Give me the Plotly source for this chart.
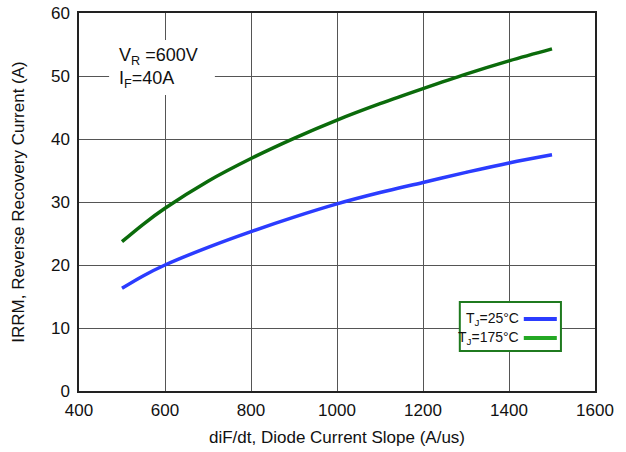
import plotly.graph_objects as go

# diF/dt sweep (A/us) and peak reverse recovery current (A) per junction temperature
di_dt = [500, 550, 600, 700, 800, 900, 1000, 1100, 1200, 1300, 1400, 1500]
irrm_25c = [16.3, 18.3, 20.0, 22.8, 25.3, 27.6, 29.7, 31.5, 33.1, 34.7, 36.2, 37.5]
irrm_175c = [23.7, 26.5, 29.0, 33.3, 36.9, 40.1, 43.0, 45.6, 48.0, 50.3, 52.4, 54.3]

x_ticks = [400, 600, 800, 1000, 1200, 1400, 1600]
y_ticks = [0, 10, 20, 30, 40, 50, 60]

FONT = "Liberation Sans, Arial, Helvetica, sans-serif"
BLUE = "#2b3cff"
GREEN = "#0b6b0b"
GREEN_KEY = "#24a824"

fig = go.Figure()
fig.add_trace(go.Scatter(x=di_dt, y=irrm_25c, mode="lines", line=dict(color=BLUE, width=3.5),
                         line_shape="spline", showlegend=False))
fig.add_trace(go.Scatter(x=di_dt, y=irrm_175c, mode="lines", line=dict(color=GREEN, width=3.5),
                         line_shape="spline", showlegend=False))

axis_common = dict(showline=True, linecolor="#222", linewidth=1.5, mirror=True,
                   showgrid=True, gridcolor="#555", gridwidth=1.3, zeroline=False,
                   automargin=False,
                   ticks="", tickfont=dict(family=FONT, size=17, color="#111"))

fig.update_xaxes(range=[400, 1600], tickvals=x_ticks, ticktext=[str(v) for v in x_ticks],
                 ticklabelstandoff=3,
                 title=dict(text="diF/dt, Diode Current Slope (A/us)",
                            font=dict(family=FONT, size=17, color="#111"), standoff=12),
                 **axis_common)
fig.update_yaxes(range=[0, 60], tickvals=y_ticks, ticktext=[str(v) for v in y_ticks],
                 ticklabelstandoff=4,
                 title=dict(text="IRRM, Reverse Recovery Current (A)",
                            font=dict(family=FONT, size=17, color="#111"), standoff=22),
                 **axis_common)

# White patch over the grid behind the test conditions label
fig.add_shape(type="rect", xref="x", yref="y", x0=470, x1=716, y0=47.0, y1=55.7,
              line=dict(width=0), fillcolor="white", layer="between")
fig.add_annotation(x=490, y=55.1, xref="x", yref="y", xanchor="left", yanchor="top",
                   text="V<sub>R</sub> =600V<br>I<sub>F</sub>=40A", align="left",
                   showarrow=False, borderpad=0,
                   font=dict(family=FONT, size=18, color="#111"))

# Legend box with labels on the left and line keys on the right
fig.add_shape(type="rect", xref="paper", yref="paper", x0=0.738, x1=0.934, y0=0.106, y1=0.2354,
              line=dict(color="#1f7a1f", width=2), fillcolor="white", layer="above")
legend_rows = [("T<sub>J</sub>=25°C", BLUE, 0.1905), ("T<sub>J</sub>=175°C", GREEN_KEY, 0.140)]
for label, color, ypos in legend_rows:
    fig.add_shape(type="line", xref="paper", yref="paper", x0=0.862, x1=0.926, y0=ypos, y1=ypos,
                  line=dict(color=color, width=4), layer="above")
    fig.add_annotation(x=0.857, y=ypos, xref="paper", yref="paper", xanchor="right", yanchor="middle",
                       text=label, showarrow=False, font=dict(family=FONT, size=14, color="#111"))

fig.update_layout(width=626, height=452, margin=dict(l=79, r=31, t=13, b=61, autoexpand=False),
                  plot_bgcolor="white", paper_bgcolor="white", showlegend=False)

fig.write_html("out.html")
